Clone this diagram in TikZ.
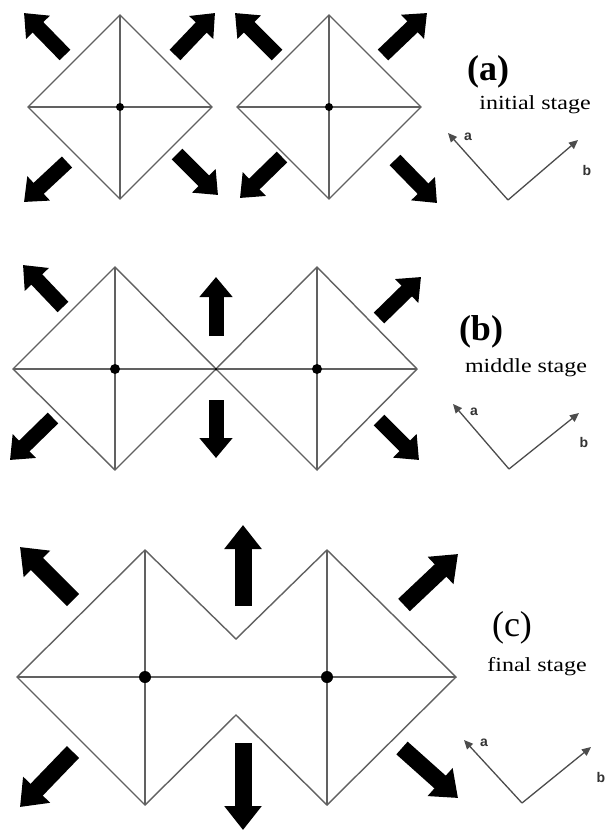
\documentclass[tikz,border=0pt]{standalone}
\usepackage{fontspec}
\setmainfont{Liberation Serif}
\newfontfamily\axfont{Liberation Sans}
\usetikzlibrary{arrows.meta}
\tikzset{
  edge/.style={draw=black!62, line width=1.4pt},
  blk/.style={draw=black, line width=15pt, -{Triangle[width=32pt,length=20pt]}},
  blkbig/.style={draw=black, line width=17pt, -{Triangle[width=36pt,length=24pt]}},
  axarrow/.style={draw=black!70, line width=1.3pt, -{Triangle[width=8pt,length=9pt]}},
  dotnode/.style={circle, fill=black, inner sep=0pt, minimum size=#1},
  panellab/.style={font=\fontsize{36}{40}\selectfont\bfseries},
  panellabr/.style={font=\fontsize{36}{40}\selectfont},
  stagelab/.style={font=\fontsize{20}{24}\selectfont, xscale=1.2, inner sep=0pt},
  axlab/.style={font=\axfont\fontsize{14}{16}\selectfont\bfseries, text=black!80, inner sep=0pt}
}
\begin{document}
\begin{tikzpicture}[x=1pt,y=-1pt]
\useasboundingbox (0,0) rectangle (608,831);
\fill[white] (0,0) rectangle (608,831);

% ---------- panel (a) ----------
\coordinate (aL1) at (28,107); \coordinate (aT1) at (120,15);
\coordinate (aR1) at (212,107); \coordinate (aB1) at (120,199);
\coordinate (aL2) at (237,107); \coordinate (aT2) at (329,15);
\coordinate (aR2) at (421,107); \coordinate (aB2) at (329,199);
\draw[edge] (aL1) -- (aT1) -- (aR1) -- (aB1) -- cycle;
\draw[edge] (aL1) -- (aR1) (aT1) -- (aB1);
\draw[edge] (aL2) -- (aT2) -- (aR2) -- (aB2) -- cycle;
\draw[edge] (aL2) -- (aR2) (aT2) -- (aB2);
\node[dotnode=8pt] (aC1) at (120,107) {};
\node[dotnode=8pt] (aC2) at (329,107) {};

\draw[blk] (65,55) -- (24,13);
\draw[blk] (175,55) -- (215,13);
\draw[blk] (67,162) -- (24,202);
\draw[blk] (177,154) -- (218,195);
\draw[blk] (277,55) -- (235,13);
\draw[blk] (383,55) -- (427,13);
\draw[blk] (282,157) -- (240,198);
\draw[blk] (395,160) -- (437,203);

\node[panellab] (laba) at (488,72) {(a)};
\node[stagelab] (staga) at (535,105) {initial stage};
\coordinate (aO) at (508,200);
\coordinate (aA) at (448,133);
\coordinate (aB) at (578,140);
\draw[axarrow] (aO) -- (aA);
\draw[axarrow] (aO) -- (aB);
\node[axlab] (axaa) at (468,137) {a};
\node[axlab] (axab) at (587,170) {b};

% ---------- panel (b) ----------
\coordinate (bL1) at (13,369); \coordinate (bT1) at (115,267);
\coordinate (bM) at (216,369); \coordinate (bB1) at (115,470);
\coordinate (bT2) at (317,267); \coordinate (bR2) at (417,369);
\coordinate (bB2) at (317,470);
\draw[edge] (bL1) -- (bT1) -- (bM) -- (bB1) -- cycle;
\draw[edge] (bM) -- (bT2) -- (bR2) -- (bB2) -- cycle;
\draw[edge] (bL1) -- (bR2) (bT1) -- (bB1) (bT2) -- (bB2);
\node[dotnode=10pt] (bC1) at (115,369) {};
\node[dotnode=10pt] (bC2) at (317,369) {};
\node[dotnode=3pt] (bJ) at (bM) {};

\draw[blk] (63,307) -- (23,265);
\draw[blk] (216,336) -- (216,277);
\draw[blk] (216,400) -- (216,458);
\draw[blk] (53,418) -- (10,460);
\draw[blk] (379,318) -- (421,277);
\draw[blk] (379,420) -- (419,460);

\node[panellab] (labb) at (481,332) {(b)};
\node[stagelab] (stagb) at (526,368) {middle stage};
\coordinate (bO) at (509,469);
\coordinate (bA) at (453,404);
\coordinate (bBb) at (579,413);
\draw[axarrow] (bO) -- (bA);
\draw[axarrow] (bO) -- (bBb);
\node[axlab] (axba) at (474,412) {a};
\node[axlab] (axbb) at (584,442) {b};

% ---------- panel (c) ----------
\coordinate (cL) at (17,677); \coordinate (cT1) at (145,550);
\coordinate (cN1) at (236,639); \coordinate (cT2) at (327,550);
\coordinate (cR) at (456,677); \coordinate (cB2) at (327,805);
\coordinate (cN2) at (236,715); \coordinate (cB1) at (145,805);
\draw[edge] (cL) -- (cT1) -- (cN1) -- (cT2) -- (cR) -- (cB2) -- (cN2) -- (cB1) -- cycle;
\draw[edge] (cL) -- (cR) (cT1) -- (cB1) (cT2) -- (cB2);
\node[dotnode=12pt] (cC1) at (145,677) {};
\node[dotnode=12pt] (cC2) at (327,677) {};

\draw[blkbig] (73,600) -- (20,547);
\draw[blkbig] (243,606) -- (243,525);
\draw[blkbig] (243,743) -- (243,830);
\draw[blkbig] (73,752) -- (20,807);
\draw[blkbig] (404,605) -- (458,554);
\draw[blkbig] (402,748) -- (458,798);

\node[panellabr] (labc) at (512,628) {(c)};
\node[stagelab] (stagc) at (537,667) {final stage};
\coordinate (cO) at (522,803);
\coordinate (cA) at (464,740);
\coordinate (cBb) at (591,747);
\draw[axarrow] (cO) -- (cA);
\draw[axarrow] (cO) -- (cBb);
\node[axlab] (axca) at (484,743) {a};
\node[axlab] (axcb) at (601,777) {b};
\end{tikzpicture}
\end{document}
